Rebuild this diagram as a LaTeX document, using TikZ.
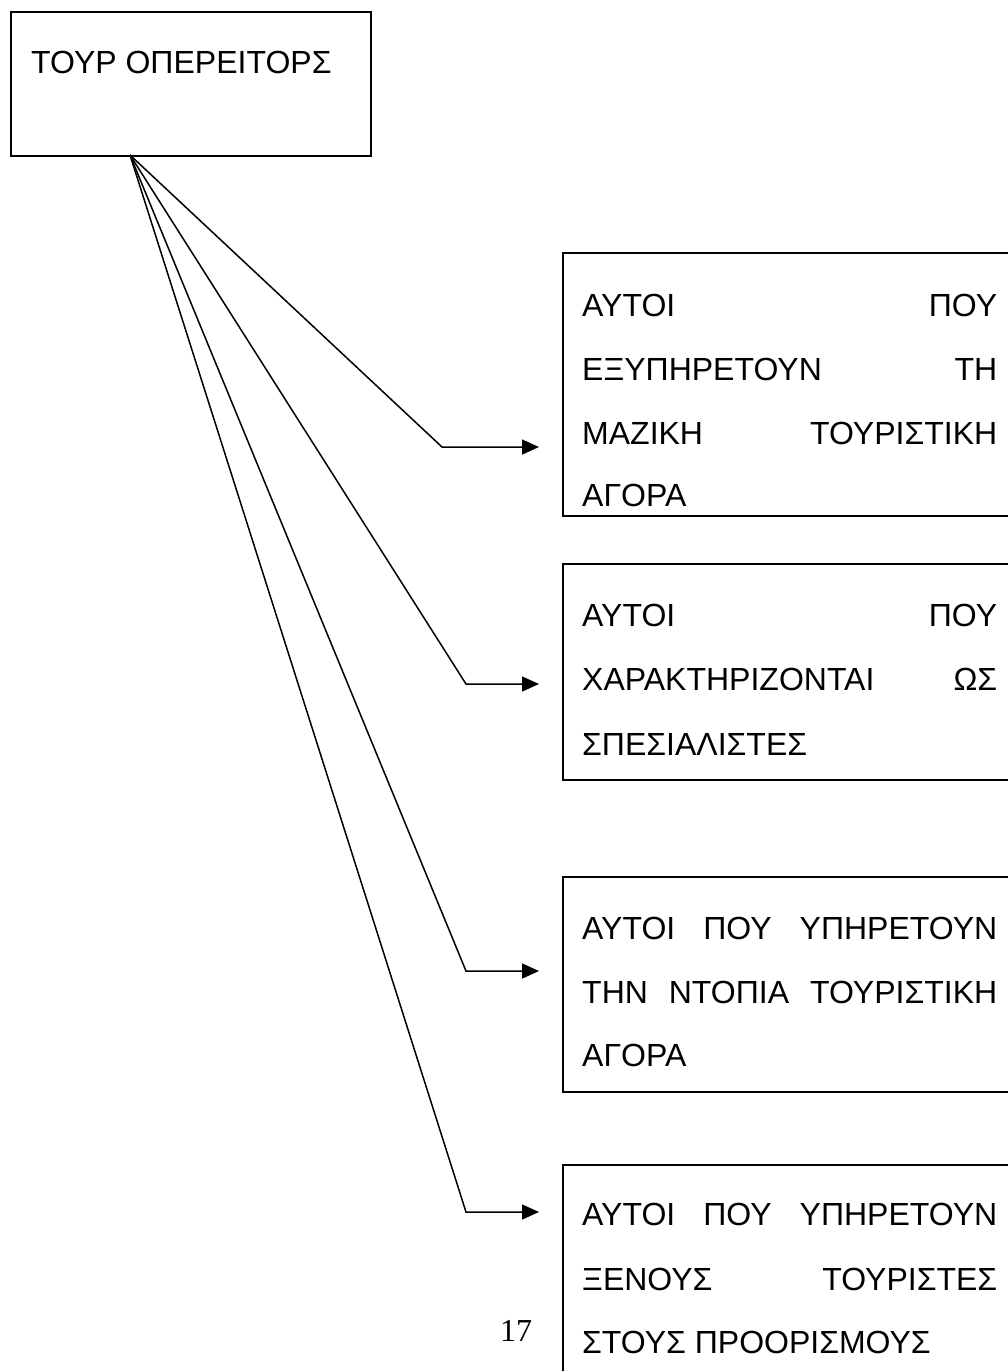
\documentclass[tikz,border=0pt]{standalone}
\usepackage{fontspec}
\setmainfont{Liberation Sans}
\newfontfamily\pagenumfont{Liberation Serif}
\usetikzlibrary{arrows.meta}
\tikzset{
  boxnode/.style={draw=black, line width=1.8pt, rectangle, inner sep=0pt, anchor=north west},
  linetxt/.style={inner sep=0pt, anchor=base west, font=\fontsize{32}{38}\selectfont},
  conn/.style={draw=black, line width=1.5pt, -{Triangle[length=17pt,width=15pt]}}
}
\begin{document}
\begin{tikzpicture}[x=1pt,y=-1pt]
\useasboundingbox (0,0) rectangle (1007,1371);
\fill[white] (0,0) rectangle (1007,1371);

% source box
\node[boxnode, minimum width=360pt, minimum height=144pt] (top) at (10,11) {};
\node[linetxt] (toptxt) at (31,73) {ΤΟΥΡ ΟΠΕΡΕΙΤΟΡΣ};

% target boxes (cut by the right and bottom page edge)
\node[boxnode, minimum width=480pt, minimum height=263pt] (b1) at (562,252) {};
\node[boxnode, minimum width=480pt, minimum height=216pt] (b2) at (562,563) {};
\node[boxnode, minimum width=480pt, minimum height=215pt] (b3) at (562,876) {};
\node[boxnode, minimum width=480pt, minimum height=260pt] (b4) at (562,1164) {};

% box 1 text
\node[linetxt] (t11) at (582,316) {\hbox to 415pt{ΑΥΤΟΙ\hfill ΠΟΥ}};
\node[linetxt] (t12) at (582,380) {\hbox to 415pt{ΕΞΥΠΗΡΕΤΟΥΝ\hfill ΤΗ}};
\node[linetxt] (t13) at (582,444) {\hbox to 415pt{ΜΑΖΙΚΗ\hfill ΤΟΥΡΙΣΤΙΚΗ}};
\node[linetxt] (t14) at (582,506) {ΑΓΟΡΑ};

% box 2 text
\node[linetxt] (t21) at (582,626) {\hbox to 415pt{ΑΥΤΟΙ\hfill ΠΟΥ}};
\node[linetxt] (t22) at (582,690) {\hbox to 415pt{ΧΑΡΑΚΤΗΡΙΖΟΝΤΑΙ\hfill ΩΣ}};
\node[linetxt] (t23) at (582,755) {ΣΠΕΣΙΑΛΙΣΤΕΣ};

% box 3 text
\node[linetxt] (t31) at (582,939) {\hbox to 415pt{ΑΥΤΟΙ\hfill ΠΟΥ\hfill ΥΠΗΡΕΤΟΥΝ}};
\node[linetxt] (t32) at (582,1003) {\hbox to 415pt{ΤΗΝ\hfill ΝΤΟΠΙΑ\hfill ΤΟΥΡΙΣΤΙΚΗ}};
\node[linetxt] (t33) at (582,1066) {ΑΓΟΡΑ};

% box 4 text
\node[linetxt] (t41) at (582,1225) {\hbox to 415pt{ΑΥΤΟΙ\hfill ΠΟΥ\hfill ΥΠΗΡΕΤΟΥΝ}};
\node[linetxt] (t42) at (582,1290) {\hbox to 415pt{ΞΕΝΟΥΣ\hfill ΤΟΥΡΙΣΤΕΣ}};
\node[linetxt] (t43) at (582,1353) {ΣΤΟΥΣ ΠΡΟΟΡΙΣΜΟΥΣ};

% page number
\node[inner sep=0pt, anchor=base, font=\pagenumfont\fontsize{32}{38}\selectfont] (pnum) at (516,1341) {17};

% connectors
\coordinate (src) at (130,155);
\coordinate (k1) at (442,447);
\coordinate (k2) at (466,684);
\coordinate (k3) at (466,971);
\coordinate (k4) at (466,1212);
\coordinate (e1) at ([xshift=-23pt]b1.west |- k1);
\coordinate (e2) at ([xshift=-23pt]b2.west |- k2);
\coordinate (e3) at ([xshift=-23pt]b3.west |- k3);
\coordinate (e4) at ([xshift=-23pt]b4.west |- k4);
\draw[conn] (src) -- (k1) -- (e1);
\draw[conn] (src) -- (k2) -- (e2);
\draw[conn] (src) -- (k3) -- (e3);
\draw[conn] (src) -- (k4) -- (e4);
\end{tikzpicture}
\end{document}
